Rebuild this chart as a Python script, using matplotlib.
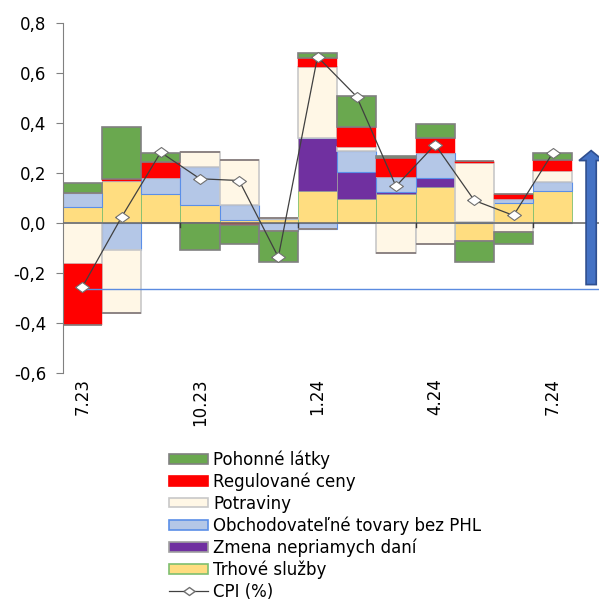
import numpy as np
import matplotlib
matplotlib.use("Agg")
import matplotlib.pyplot as plt
from matplotlib.patches import Patch, FancyArrow
from matplotlib.lines import Line2D

# ======================================
# DATOS
# ======================================

mesiace = ["7.23", "8.23", "9.23", "10.23", "11.23", "12.23", "1.24",
           "2.24", "3.24", "4.24", "5.24", "6.24", "7.24"]

trhove_sluzby = [0.065, 0.167, 0.117, 0.073, 0.013, 0.015, 0.127,
                 0.097, 0.114, 0.146, -0.074, 0.079, 0.130]
zmena_dani = [0.0, 0.0, 0.0, 0.0, 0.0, 0.0, 0.214,
              0.106, 0.009, 0.035, 0.0, 0.0, 0.0]
obchodovatelne = [0.055, -0.110, 0.062, 0.153, 0.060, -0.032, -0.023,
                  0.087, 0.060, 0.098, 0.004, 0.018, 0.036]
potraviny = [-0.163, -0.250, 0.0, 0.057, 0.180, 0.005, 0.282,
             0.013, -0.121, -0.086, 0.237, -0.037, 0.044]
regulovane = [-0.247, 0.011, 0.067, 0.0, -0.008, 0.0, 0.038,
              0.083, 0.078, 0.060, 0.008, 0.020, 0.044]
pohonne = [0.040, 0.208, 0.036, -0.107, -0.075, -0.125, 0.022,
           0.124, 0.009, 0.058, -0.083, -0.049, 0.025]

cpi = [-0.257, 0.023, 0.283, 0.177, 0.170, -0.137, 0.666,
       0.506, 0.147, 0.314, 0.090, 0.030, 0.281]

uroven_ciary = -0.263
sipka_od, sipka_do = -0.247, 0.29

y_ticks = [-0.6, -0.4, -0.2, 0.0, 0.2, 0.4, 0.6, 0.8]
y_labels = ["-0,6", "-0,4", "-0,2", "0,0", "0,2", "0,4", "0,6", "0,8"]

# ======================================
# SERIE (poradie skladania zdola)
# ======================================

serie = [
    ("Trhové služby", trhove_sluzby, "#FFDD80", "#7FBF6F", 0.6),
    ("Zmena nepriamych daní", zmena_dani, "#7030A0", "#A0A0A0", 0.5),
    ("Obchodovateľné tovary bez PHL", obchodovatelne, "#B4C7E7", "#5B8FE8", 0.8),
    ("Potraviny", potraviny, "#FFF7E6", "#C8C8C8", 1.2),
    ("Regulované ceny", regulovane, "#FF0000", "#FF0000", 0.3),
    ("Pohonné látky", pohonne, "#6AA84F", "#808080", 1.2),
]

plt.rcParams["font.family"] = "DejaVu Sans"

fig = plt.figure(figsize=(5.99, 6.04), dpi=100)
ax = fig.add_axes([0.1047, 0.383, 0.8953, 0.5784])

x = np.arange(len(mesiace))
pos_base = np.zeros(len(mesiace))
neg_base = np.zeros(len(mesiace))

for nazov, hodnoty, farba, okraj, lw in serie:
    h = np.array(hodnoty)
    kladne = np.where(h > 0, h, 0)
    zaporne = np.where(h < 0, h, 0)
    ax.bar(x, kladne, bottom=pos_base, width=1.0, color=farba,
           edgecolor=okraj, linewidth=lw, zorder=2)
    ax.bar(x, zaporne, bottom=neg_base, width=1.0, color=farba,
           edgecolor=okraj, linewidth=lw, zorder=2)
    pos_base += kladne
    neg_base += zaporne

# nulova os
ax.axhline(0, color="#6E6E6E", linewidth=1.2, zorder=3)
for b in [2.5, 5.5, 8.5, 11.5]:
    ax.plot([b, b], [0, -0.018], color="#3A3A3A", linewidth=1.0, zorder=3)

# ciara urovne
ax.plot([0, 13.3], [uroven_ciary, uroven_ciary], color="#5B8BE0",
        linewidth=1.0, zorder=3)

# CPI
diamant = [(-1, 0), (0, 0.72), (1, 0), (0, -0.72), (-1, 0)]
ax.plot(x, cpi, color="#404040", linewidth=0.9, marker=diamant,
        markersize=10, markerfacecolor="white", markeredgecolor="#707070",
        markeredgewidth=0.8, zorder=5)

# sipka
sipka = FancyArrow(12.98, sipka_od, 0, sipka_do - sipka_od, width=0.26,
                   head_width=0.62, head_length=0.04,
                   length_includes_head=True, facecolor="#4472C4",
                   edgecolor="#2F4F8F", linewidth=1.2, zorder=4,
                   clip_on=False)
ax.add_patch(sipka)

# ======================================
# OSI
# ======================================

ax.set_xlim(-0.5, 13.18)
ax.set_ylim(-0.6, 0.8)
ax.set_yticks(y_ticks)
ax.set_yticklabels(y_labels, fontsize=12)
ax.tick_params(axis="y", direction="out", length=5, color="#808080", pad=7)

ax.set_xticks(x[::3])
ax.set_xticklabels(mesiace[::3], rotation=90, fontsize=12)
ax.tick_params(axis="x", length=0, pad=4)

for s in ["top", "right", "bottom"]:
    ax.spines[s].set_visible(False)
ax.spines["left"].set_color("#808080")

# ======================================
# LEGENDA
# ======================================

handles = []
labels = []
for nazov, hodnoty, farba, okraj, lw in reversed(serie):
    handles.append(Patch(facecolor=farba, edgecolor=okraj, linewidth=1.2))
    labels.append(nazov)
handles.append(Line2D([0], [0], color="#404040", linewidth=0.9,
                      marker=diamant, markersize=8, markerfacecolor="white",
                      markeredgecolor="#707070"))
labels.append("CPI (%)")

fig.legend(handles, labels, loc="upper left",
           bbox_to_anchor=(0.282, 0.2545), frameon=False, fontsize=12,
           handlelength=2.35, handleheight=0.5, handletextpad=0.3,
           labelspacing=0.22, borderpad=0, borderaxespad=0)

fig.savefig("out.png", dpi=100)
